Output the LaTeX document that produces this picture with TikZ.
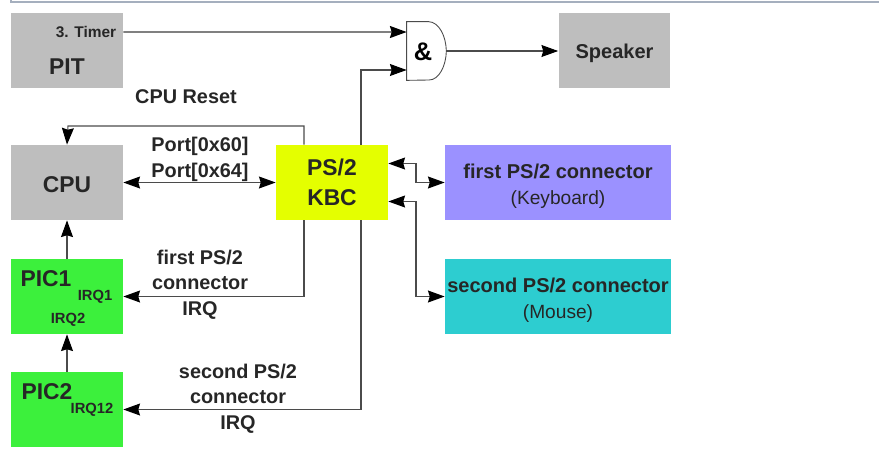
\documentclass[tikz,border=0pt]{standalone}
\usepackage{fontspec}
\setmainfont{Liberation Sans}
\usetikzlibrary{arrows.meta}
\definecolor{BoardGray}{RGB}{190,190,190}
\definecolor{BoardGreen}{RGB}{60,240,60}
\definecolor{BoardYellow}{RGB}{228,255,0}
\definecolor{BoardViolet}{RGB}{155,145,255}
\definecolor{BoardTeal}{RGB}{45,205,208}
\definecolor{WireGray}{RGB}{75,75,75}
\definecolor{FrameBlue}{RGB}{165,175,190}
\newcommand{\droptext}[2]{\raisebox{-#1}[\height][\depth]{#2}}
\tikzset{
  chip/.style={minimum width=2.24cm,minimum height=1.5cm,inner sep=0pt,align=center,text=black!85,font=\fontsize{13}{17}\selectfont\bfseries},
  wide/.style={chip,minimum width=4.52cm,font=\fontsize{11.4}{14.8}\selectfont\bfseries},
  wire/.style={WireGray,line width=0.6pt},
  tag/.style={align=center,text=black!85,font=\fontsize{11.3}{14.6}\selectfont\bfseries},
  irq/.style={text=black!85,font=\fontsize{8.4}{9}\selectfont\bfseries},
}
\begin{document}
\begin{tikzpicture}[x=0.02cm,y=-0.02cm,>={Stealth[length=9.5pt,width=6.8pt,inset=1pt,color=black]}]
\useasboundingbox (0,0) rectangle (879,454);
\draw[FrameBlue,line width=0.7pt] (11,0) -- (11,2) -- (879,2);
\node[chip,fill=BoardGray] (pit) at (67,50.5) {};
\node[chip,fill=BoardGray] (cpu) at (67,182.5) {\droptext{1.1pt}{CPU}};
\node[chip,fill=BoardGreen] (pic1) at (67,296.5) {};
\node[chip,fill=BoardGreen] (pic2) at (67,409.5) {};
\node[chip,fill=BoardYellow] (kbc) at (332,182.5) {PS/2\\KBC};
\node[chip,fill=BoardGray,font=\fontsize{11.4}{13}\selectfont\bfseries] (speaker) at (614.5,50.5) {\droptext{1.7pt}{Speaker}};
\node[wide,fill=BoardViolet] (first) at (558,182.5) {\droptext{2pt}{first PS/2 connector}\\\droptext{2pt}{\fontsize{10.9}{14.8}\selectfont\mdseries (Keyboard)}};
\node[wide,fill=BoardTeal] (second) at (558,296.5) {\droptext{2pt}{second PS/2 connector}\\\droptext{2pt}{\fontsize{10.9}{14.8}\selectfont\mdseries (Mouse)}};
\node[minimum width=0.78cm,minimum height=1.16cm,inner sep=0pt] (gate) at (426.5,51) {};
\draw[WireGray,line width=0.5pt] (gate.north west) -- ++(22,0) .. controls (439,22) and (446,36) .. (gate.east) .. controls (446,66) and (439,80) .. (429,80) -- (gate.south west) -- cycle;
% texts
\node[font=\fontsize{14.5}{15}\selectfont\bfseries] (amp) at (423,52) {\&};
\node[irq,font=\fontsize{8.8}{9}\selectfont\bfseries] (timer) at (86,32) {3. Timer};
\node[chip,minimum width=0pt,minimum height=0pt] (pitname) at (67,67) {PIT};
\node[chip,minimum width=0pt,minimum height=0pt] (picone) at (46,279) {PIC1};
\node[chip,minimum width=0pt,minimum height=0pt] (pictwo) at (47,392) {PIC2};
\node[irq] (irqone) at (95,297) {IRQ1};
\node[irq] (irqtwo) at (68,320) {IRQ2};
\node[irq] (irqtwelve) at (92,410) {IRQ12};
\node[tag] (reset) at (186,97) {CPU Reset};
\node[tag] (ports) at (200,159.5) {Port[0x60]\\Port[0x64]};
\node[tag] (firstirq) at (200,284.5) {first PS/2\\connector\\IRQ};
\node[tag] (secondirq) at (238,398.5) {second PS/2\\connector\\IRQ};
% connectors
\draw[->,line width=1pt,black!50] (pit.east |- 0,32) -- ([yshift=0.38cm]gate.west);
\draw[->,wire] ([xshift=0.58cm]kbc.north) |- ([yshift=-0.38cm]gate.west);
\draw[->,wire] (gate.east) -- (gate.east -| speaker.west);
\draw[->,wire] ([xshift=-0.56cm]kbc.north) |- (68,126) -- (cpu.north);
\draw[<->,wire] (cpu.east) -- (kbc.west);
\draw[<->,wire] ([yshift=0.38cm]kbc.east) -| (416,182.5) -- (first.west);
\draw[<->,wire] ([yshift=-0.38cm]kbc.east) -| (416,296.5) -- (second.west);
\draw[->,wire] ([xshift=-0.56cm]kbc.south) |- (pic1.east);
\draw[->,wire] ([xshift=0.58cm]kbc.south) |- (pic2.east);
\draw[->,wire] (pic1.north) -- (cpu.south);
\draw[->,wire] (pic2.north) -- (pic1.south);
\end{tikzpicture}
\end{document}
